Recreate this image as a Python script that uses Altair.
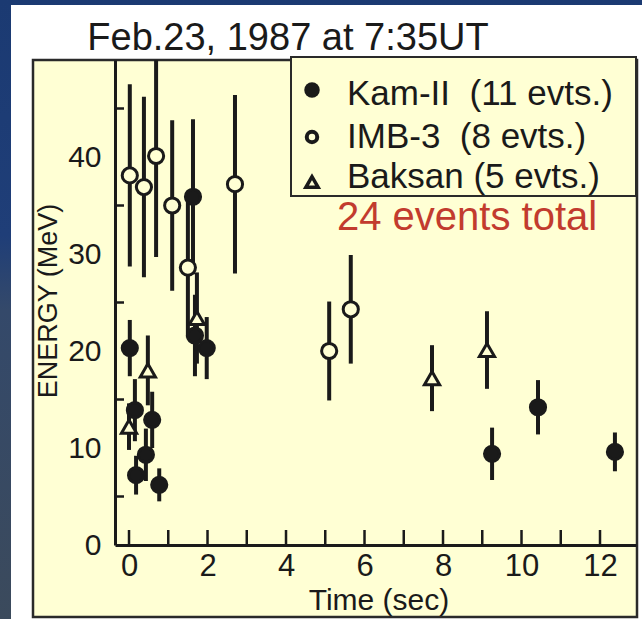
import altair as alt
import pandas as pd

# ---------------- data ----------------
labels = ["Kam-II\u00a0 (11 evts.)", "IMB-3\u00a0 (8 evts.)", "Baksan (5 evts.)"]

kam_t = [0.02, 0.15, 0.18, 0.43, 0.59, 0.77, 1.63, 1.68, 1.98, 9.25, 10.42, 12.38]
kam_e = [20.3, 13.9, 7.2, 9.3, 12.9, 6.2, 35.9, 21.6, 20.3, 9.4, 14.2, 9.6]
kam_err = [2.9, 3.2, 2.0, 2.7, 2.9, 1.7, 8.0, 4.2, 3.2, 2.7, 2.8, 2.0]

imb_t = [0.02, 0.38, 0.69, 1.10, 1.50, 2.70, 5.10, 5.65]
imb_e = [38.1, 36.9, 40.1, 35.0, 28.6, 37.2, 20.0, 24.3]
imb_err = [9.4, 9.3, 10.4, 8.8, 7.2, 9.2, 5.1, 5.6]

bak_t = [0.0, 0.48, 1.73, 7.72, 9.12]
bak_e = [12.2, 18.0, 23.4, 17.2, 20.1]
bak_err = [2.4, 3.6, 4.7, 3.4, 4.0]

x_labels = [0, 2, 4, 6, 8, 10, 12]
x_ticks = [0, 1, 2, 3, 4, 5, 6, 7, 8, 9, 10, 11, 12]
y_labels = [0, 10, 20, 30, 40]
y_ticks = [5, 15, 25, 35, 45]

title_text = "Feb.23, 1987 at 7:35UT"
total_text = "24 events total"

# ---------------- table ----------------
rows = []
for lab, ts, es, errs in zip(labels, [kam_t, imb_t, bak_t], [kam_e, imb_e, bak_e], [kam_err, imb_err, bak_err]):
    for t, e, d in zip(ts, es, errs):
        rows.append({"t": t, "e": e, "lo": e - d, "hi": e + d, "det": lab})
df = pd.DataFrame(rows)
xt_df = pd.DataFrame({"v": x_ticks})
yt_df = pd.DataFrame({"v": y_ticks})

FONT = "Liberation Sans"
YELLOW = "#ffffd4"
INK = "#1a1a1a"
W, H = 521, 485

x_scale = alt.Scale(domain=[-0.357, 12.917], nice=False, zero=False)
y_scale = alt.Scale(domain=[0, 50], nice=False, zero=False)

x_axis = alt.Axis(values=x_labels, title="Time (sec)", ticks=False, grid=False,
                  domainColor=INK, domainWidth=3, labelFontSize=31, labelFont=FONT,
                  labelColor=INK, labelPadding=6, labelFlush=False, labelOverlap=False,
                  titleFontSize=30, titleFont=FONT, titleFontWeight="normal", titleColor=INK,
                  titleX=W / 2 + 3, titleY=64, titleBaseline="alphabetic", titleAlign="center",
                  zindex=1)
y_axis = alt.Axis(values=y_labels, title="ENERGY (MeV)", ticks=False, grid=False,
                  domainColor=INK, domainWidth=3, labelFontSize=30, labelFont=FONT,
                  labelColor=INK, labelPadding=14, labelFlush=False, labelOverlap=False,
                  titleFontSize=27, titleFont=FONT, titleFontWeight="normal", titleColor=INK,
                  titleX=-67, titleY=H / 2 - 2, titleAngle=270, titleBaseline="middle",
                  titleAlign="center", zindex=1)

one = alt.Data(values=[{"k": 1}])


def rect(x, x2, y, y2, **kw):
    return alt.Chart(one).mark_rect(**kw).encode(
        x=alt.value(x), x2=alt.value(x2), y=alt.value(y), y2=alt.value(y2))


def text(s, x, y, **kw):
    return alt.Chart(one).mark_text(text=s, font=FONT, **kw).encode(
        x=alt.value(x), y=alt.value(y))


bg = rect(-115, 527, -60, 559, color=alt.LinearGradient(
    gradient="linear", x1=0, x2=0, y1=0, y2=1,
    stops=[alt.GradientStop(color="#1b3a72", offset=0),
           alt.GradientStop(color="#1f3e78", offset=0.38),
           alt.GradientStop(color="#34496a", offset=0.5),
           alt.GradientStop(color="#3b4a5c", offset=1)]))
panel = rect(-104, 527, -55, 559, color="#ffffff")
frame = rect(-82, 522, 0, 557, fill=YELLOW, stroke="#2a2a2a", strokeWidth=2.5)
title = text(title_text, 173, -10, fontSize=38, align="center", baseline="alphabetic", color=INK)

xticks = alt.Chart(xt_df).mark_rule(color=INK, strokeWidth=2.5).encode(
    x=alt.X("v:Q", scale=x_scale, axis=x_axis), y=alt.value(470), y2=alt.value(485))
yticks = alt.Chart(yt_df).mark_rule(color=INK, strokeWidth=2.5).encode(
    y=alt.Y("v:Q", scale=y_scale, axis=y_axis), x=alt.value(0), x2=alt.value(9))

bars = alt.Chart(df).mark_rule(color=INK, strokeWidth=4, clip=True).encode(
    x=alt.X("t:Q", scale=x_scale, axis=x_axis),
    y=alt.Y("lo:Q", scale=y_scale, axis=y_axis),
    y2="hi:Q")

points = alt.Chart(df).mark_point(size=230, strokeWidth=3, stroke=INK, opacity=1,
                                  fillOpacity=1).encode(
    x=alt.X("t:Q", scale=x_scale, axis=x_axis),
    y=alt.Y("e:Q", scale=y_scale, axis=y_axis),
    shape=alt.Shape("det:N", scale=alt.Scale(domain=labels, range=["circle", "circle", "triangle-up"]),
                    legend=None),
    fill=alt.Fill("det:N", scale=alt.Scale(domain=labels, range=[INK, YELLOW, YELLOW]), legend=None),
)

# legend box
leg_box = rect(176, 521, -3, 136, fill=YELLOW, stroke="#2a2a2a", strokeWidth=2)
leg_sym1 = alt.Chart(one).mark_point(shape="circle", filled=True, size=240, color=INK, opacity=1).encode(
    x=alt.value(197), y=alt.value(30))
leg_sym2 = alt.Chart(one).mark_point(shape="circle", filled=False, size=110, color=INK, strokeWidth=4,
                                     opacity=1).encode(x=alt.value(197), y=alt.value(77))
leg_sym3 = alt.Chart(one).mark_point(shape="triangle-up", filled=False, size=150, color=INK, strokeWidth=3.5,
                                     opacity=1).encode(x=alt.value(197), y=alt.value(122))
leg_t1 = text(labels[0], 232, 45, fontSize=35, align="left", baseline="alphabetic", color=INK)
leg_t2 = text(labels[1], 232, 88, fontSize=35, align="left", baseline="alphabetic", color=INK)
leg_t3 = text(labels[2], 232, 128, fontSize=35, align="left", baseline="alphabetic", color=INK)
total = text(total_text, 222, 170, fontSize=40, align="left", baseline="alphabetic", color="#c23b2e")

chart = alt.layer(
    bg, panel, frame, title, xticks, yticks, bars, points,
    leg_box, leg_sym1, leg_sym2, leg_sym3, leg_t1, leg_t2, leg_t3, total
).properties(
    width=W, height=H,
    autosize=alt.AutoSizeParams(type="none"),
    padding={"left": 115, "top": 60, "right": 6, "bottom": 74},
    background="#1b3a72",
).configure_view(strokeWidth=0)

chart.save("out.html", embed_options={"renderer": "svg", "actions": False})
